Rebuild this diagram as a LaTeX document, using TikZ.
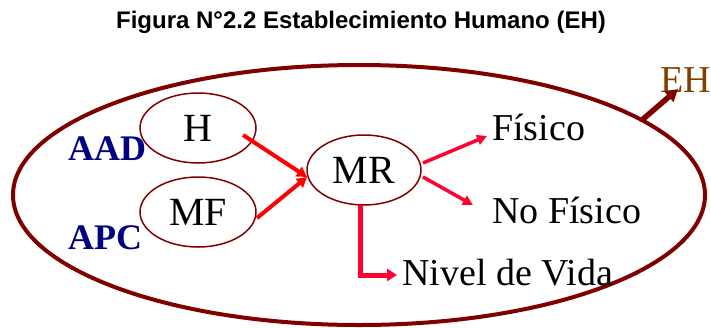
\documentclass[tikz,border=0pt]{standalone}
\usepackage{fontspec}
\setmainfont{Liberation Serif}
\newfontfamily\titlefont{Liberation Sans}
\usetikzlibrary{shapes.geometric,arrows.meta,calc}
\definecolor{darkred}{RGB}{128,0,0}
\definecolor{navyblue}{RGB}{0,0,128}
\definecolor{ehbrown}{RGB}{128,64,0}
\definecolor{crimson}{RGB}{255,0,51}
\tikzset{
  bigell/.style={ellipse,draw=darkred,line width=4pt,minimum width=692pt,minimum height=260pt,inner sep=0pt},
  smallell/.style={ellipse,draw=darkred,line width=1.5pt,minimum width=116pt,minimum height=70pt,inner sep=0pt,font=\fontsize{40}{40}\selectfont},
  lbl/.style={anchor=base west,inner sep=0pt,font=\fontsize{38}{38}\selectfont},
  side/.style={anchor=base west,inner sep=0pt,text=navyblue,font=\fontsize{36}{36}\selectfont\bfseries},
  redarrow/.style={draw=red,line width=4pt,-{Triangle[length=10pt,width=11pt]}},
  crimarrow/.style={draw=crimson,line width=3.5pt,-{Triangle[length=10pt,width=10pt]}},
  thickarrow/.style={draw=crimson,line width=5pt,-{Triangle[length=10pt,width=12pt]}},
  eharrow/.style={draw=darkred,line width=5.5pt,-{Triangle[length=12pt,width=13pt]}}
}
\begin{document}
\begin{tikzpicture}[x=1pt,y=-1pt]
\useasboundingbox (0,0) rectangle (711,327);
\node[anchor=base,inner sep=0pt,font=\titlefont\fontsize{24}{24}\selectfont\bfseries] (title) at (361,28.5) {Figura N°2.2 Establecimiento Humano (EH)};
\node[bigell] (big) at (359,195) {};
\node[smallell] (H) at (198,128) {H};
\node[smallell] (MF) at (198,212) {MF};
\node[smallell,minimum width=114pt] (MR) at (364,170) {MR};
\node[side] (AAD) at (68,160) {AAD};
\node[side] (APC) at (68,249) {APC};
\node[lbl] (fis) at (492,140) {Físico};
\node[lbl] (nofis) at (492,223) {No Físico};
\node[lbl] (niv) at (402,285) {Nivel de Vida};
\node[lbl,text=ehbrown] (EH) at (660,92) {EH};
\draw[redarrow] ($(H)+(45,7)$) -- ($(MR)+(-57,7)$);
\draw[redarrow] ($(MF)+(59,6)$) -- ($(MR)+(-57,7)$);
\draw[crimarrow] ($(MR)+(59,-7)$) -- ($(fis.base west)+(-5,-4)$);
\draw[crimarrow] ($(MR)+(59,7)$) -- ($(nofis.base west)+(-19,-18)$);
\draw[thickarrow] ($(MR)+(-4,35)$) |- ($(niv.base west)+(-5,-10)$);
\draw[eharrow] ($(big)+(283,-75)$) -- ($(EH.base west)+(18,-3)$);
\end{tikzpicture}
\end{document}
